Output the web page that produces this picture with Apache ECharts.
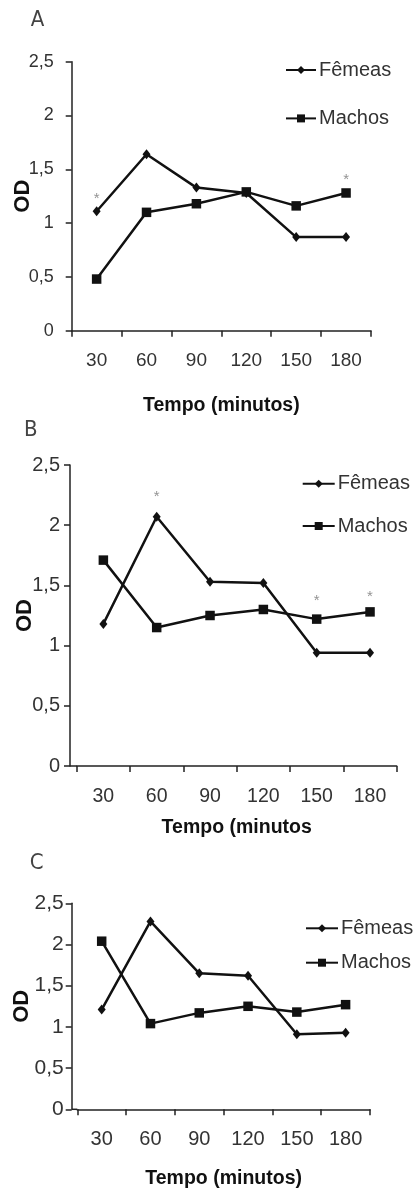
<!DOCTYPE html>
<html>
<head>
<meta charset="utf-8">
<script src="https://cdn.jsdelivr.net/npm/echarts@6/dist/echarts.min.js"></script>
<style>
  html, body { margin: 0; padding: 0; background: #fff; }
  #chart { width: 415px; height: 1195px; }
</style>
</head>
<body>
<div id="chart"></div>
<script>
// Sampling times (minutes) and OD tick labels
const categories = ['30', '60', '90', '120', '150', '180'];
const yTickLabels = ['0', '0,5', '1', '1,5', '2', '2,5'];

// Panel A
const femeasA = [1.11, 1.64, 1.33, 1.28, 0.87, 0.87];
const machosA = [0.48, 1.10, 1.18, 1.29, 1.16, 1.28];
// Panel B
const femeasB = [1.18, 2.07, 1.53, 1.52, 0.94, 0.94];
const machosB = [1.71, 1.15, 1.25, 1.30, 1.22, 1.28];
// Panel C
const femeasC = [1.21, 2.28, 1.65, 1.62, 0.91, 0.93];
const machosC = [2.04, 1.04, 1.17, 1.25, 1.18, 1.27];

// Significance asterisks: [time, OD height of the marker]
const starsA = [['30', 1.25], ['180', 1.43]];
const starsB = [['60', 2.26], ['150', 1.40], ['180', 1.43]];
const starsC = [['60', 2.54]];

const panelLetters = ['A', 'B', 'C'];
const xTitles = ['Tempo (minutos)', 'Tempo (minutos', 'Tempo (minutos)'];

const chart = echarts.init(document.getElementById('chart'), null, { renderer: 'canvas' });

const INK = '#111';
const AXIS = '#222';
const FONT = "'Liberation Sans', Arial, sans-serif";

// Layout of the three stacked panels
const panels = [
  { grid: { left: 71.7, top: 61.7, width: 299.3, height: 269 }, yOffset: 0, yMargin: 18, yFont: 18, xFont: 19, xMargin: 21, xGap: 65, yGap: 38,
    legend: { left: 285, top: 60, itemWidth: 30, itemGap: 28.4 }, letter: [36.7, 20.5] },
  { grid: { left: 76.7, top: 465, width: 320, height: 301 }, yOffset: 6.7, yMargin: 10, yFont: 20, xFont: 19.5, xMargin: 21, xGap: 52, yGap: 34,
    legend: { left: 301.7, top: 473.7, itemWidth: 32, itemGap: 22.3 }, letter: [30, 430] },
  { grid: { left: 77.3, top: 903.3, width: 292.7, height: 206 }, yOffset: 5.6, yMargin: 8, yFont: 21, xFont: 20, xMargin: 20, xGap: 59, yGap: 39,
    legend: { left: 305, top: 918.3, itemWidth: 32, itemGap: 14.4 }, letter: [35.8, 863.3] }
];

const seriesData = [[femeasA, machosA], [femeasB, machosB], [femeasC, machosC]];
const starData = [starsA, starsB, starsC];

const grids = [], xAxes = [], yAxes = [], legends = [], series = [], graphics = [];

panels.forEach((p, i) => {
  grids.push(Object.assign({ containLabel: false, outerBoundsMode: 'none' }, p.grid));

  xAxes.push({
    type: 'category', gridIndex: i, data: categories, boundaryGap: true,
    name: xTitles[i], nameLocation: 'middle', nameGap: p.xGap, nameMoveOverlap: false,
    nameTextStyle: { fontFamily: FONT, fontWeight: 'bold', fontSize: 19.5, color: INK },
    axisLine: { show: true, lineStyle: { color: AXIS, width: 1.5 } },
    axisTick: { show: true, length: 6, inside: false, lineStyle: { color: AXIS, width: 1.5 } },
    axisLabel: { fontFamily: FONT, fontSize: p.xFont, color: '#333', margin: p.xMargin },
    splitLine: { show: false }
  });

  yAxes.push({
    type: 'value', gridIndex: i, min: 0, max: 2.5, interval: 0.5, offset: p.yOffset,
    name: 'OD', nameLocation: 'middle', nameGap: p.yGap, nameRotate: 90, nameMoveOverlap: false,
    nameTextStyle: { fontFamily: FONT, fontWeight: 'bold', fontSize: 22, color: INK },
    axisLine: { show: true, lineStyle: { color: AXIS, width: 1.5 } },
    axisTick: { show: true, length: 6, inside: false, lineStyle: { color: AXIS, width: 1.5 } },
    axisLabel: {
      fontFamily: FONT, fontSize: p.yFont, color: '#333', margin: p.yMargin,
      formatter: v => yTickLabels[Math.round(v / 0.5)]
    },
    splitLine: { show: false }
  });

  legends.push({
    orient: 'vertical', left: p.legend.left, top: p.legend.top, padding: 0,
    itemWidth: p.legend.itemWidth, itemHeight: 10, itemGap: p.legend.itemGap,
    data: ['Fêmeas', 'Machos'],
    textStyle: { fontFamily: FONT, fontSize: 20, color: '#333', lineHeight: 20, padding: [0, 0, 0, -2] },
    selectedMode: false
  });

  const [fem, mac] = seriesData[i];
  series.push({
    name: 'Fêmeas', type: 'line', xAxisIndex: i, yAxisIndex: i, data: fem,
    symbol: 'diamond', symbolSize: [8, 10], showSymbol: true,
    lineStyle: { color: INK, width: 2.5 }, itemStyle: { color: INK },
    emphasis: { disabled: true }, animation: false
  });
  series.push({
    name: 'Machos', type: 'line', xAxisIndex: i, yAxisIndex: i, data: mac,
    symbol: 'rect', symbolSize: 9.5, showSymbol: true,
    lineStyle: { color: INK, width: 2.5 }, itemStyle: { color: INK },
    emphasis: { disabled: true }, animation: false
  });
  series.push({
    name: 'sig', type: 'scatter', xAxisIndex: i, yAxisIndex: i, data: starData[i],
    symbolSize: 0, silent: true, animation: false,
    label: { show: true, position: 'inside', formatter: '*', fontFamily: FONT, fontSize: 15, color: '#777', offset: [0, 3] }
  });

  // Panel letter
  graphics.push({
    type: 'text', left: p.letter[0] - 6, top: p.letter[1] - 11,
    style: { text: panelLetters[i], fontFamily: "'Liberation Sans Narrow', 'DejaVu Sans Condensed', sans-serif", fontSize: 22, fill: '#444' }
  });

  // The x axis line runs on to meet the y axis where the y axis is offset
  if (p.yOffset > 0) {
    const yb = p.grid.top + p.grid.height;
    graphics.push({
      type: 'line', silent: true,
      shape: { x1: p.grid.left - p.yOffset, y1: yb, x2: p.grid.left, y2: yb },
      style: { stroke: AXIS, lineWidth: 1.5 }
    });
  }
});

chart.setOption({
  backgroundColor: '#fff',
  animation: false,
  grid: grids,
  xAxis: xAxes,
  yAxis: yAxes,
  legend: legends,
  series: series,
  graphic: graphics
});
</script>
</body>
</html>
